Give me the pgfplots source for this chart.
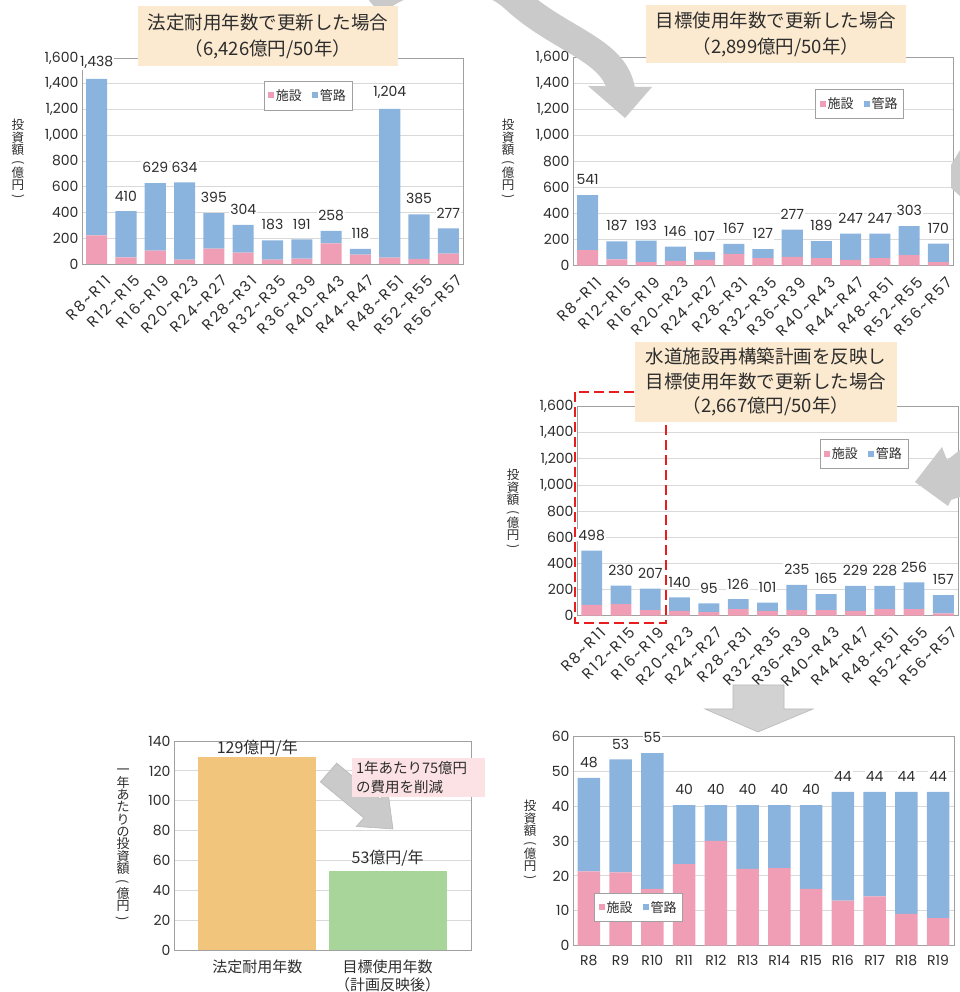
\documentclass[border=0pt]{standalone}
\usepackage{fontspec}
\setmainfont{Noto Sans CJK JP}
\newfontfamily\num{Poppins}
\newfontfamily\numw[LetterSpace=14]{Poppins}
\usepackage{graphicx}
\usepackage{pgfplots}
\usepackage{pgfplotstable}
\pgfplotsset{compat=1.18}
\definecolor{pk}{RGB}{240,158,181}
\definecolor{bl}{RGB}{138,180,222}
\definecolor{og}{RGB}{242,197,124}
\definecolor{gn}{RGB}{168,214,154}
\definecolor{ttl}{RGB}{252,234,208}
\definecolor{pkbox}{RGB}{252,226,228}
\definecolor{arrc}{RGB}{202,202,202}
\definecolor{arrd}{RGB}{185,185,185}
\definecolor{gridc}{RGB}{217,217,217}
\definecolor{frame}{RGB}{160,160,160}
\definecolor{txt}{RGB}{45,45,45}
\definecolor{dred}{RGB}{232,30,30}

% p = 施設, b = 管路, t = total label, z = zero-height helper carrying the label
\pgfplotstableread{
x p b t z
0 222 1216 1438 0.01
1 52 358 410 0.01
2 104 525 629 0.01
3 34 600 634 0.01
4 119 276 395 0.01
5 88 216 304 0.01
6 34 149 183 0.01
7 41 150 191 0.01
8 160 98 258 0.01
9 73 45 118 0.01
10 49 1155 1204 0.01
11 39 346 385 0.01
12 80 197 277 0.01
}\dA
\pgfplotstableread{
x p b t z
0 120 421 541 0.01
1 49 138 187 0.01
2 28 165 193 0.01
3 36 110 146 0.01
4 44 63 107 0.01
5 90 77 167 0.01
6 59 68 127 0.01
7 67 210 277 0.01
8 59 130 189 0.01
9 44 203 247 0.01
10 59 188 247 0.01
11 82 221 303 0.01
12 28 142 170 0.01
}\dB
\pgfplotstableread{
x p b t z
0 82 416 498 0.01
1 89 141 230 0.01
2 43 164 207 0.01
3 36 104 140 0.01
4 28 67 95 0.01
5 51 75 126 0.01
6 36 65 101 0.01
7 43 192 235 0.01
8 43 122 165 0.01
9 36 193 229 0.01
10 51 177 228 0.01
11 51 205 256 0.01
12 18 139 157 0.01
}\dC
\pgfplotstableread{
x p b t z
0 21.3 26.8 48 0.001
1 21.0 32.4 53 0.001
2 16.3 38.9 55 0.001
3 23.4 16.9 40 0.001
4 30.0 10.3 40 0.001
5 22.0 18.3 40 0.001
6 22.2 18.1 40 0.001
7 16.3 24.0 40 0.001
8 12.9 31.2 44 0.001
9 14.1 30.0 44 0.001
10 9.1 35.0 44 0.001
11 7.9 36.2 44 0.001
}\dD

\pgfplotsset{
  base/.style={
    scale only axis, anchor=south west, clip=false,
    axis line style={draw=frame},
    ymajorgrids, grid style={draw=gridc, line width=0.9pt},
    major tick length=0pt,
    yticklabel style={font=\num\fontsize{14}{14}\selectfont, text=txt},
    xticklabel style={font=\num\fontsize{14}{14}\selectfont, text=txt},
    /pgf/number format/assume math mode=true,
    /pgf/number format/1000 sep={,},
    legend style={anchor=center, draw=frame, fill=white, font=\fontsize{13}{13}\selectfont, text=txt,
      legend columns=2, /tikz/every even column/.append style={column sep=8pt}, inner xsep=4pt, inner ysep=6pt},
  },
  stk/.style={base, ybar stacked, xmin=-0.5, xmax=12.5, ymin=0,
    xtick={0,...,12},
    xticklabels={R8\textasciitilde R11,R12\textasciitilde R15,R16\textasciitilde R19,R20\textasciitilde R23,R24\textasciitilde R27,R28\textasciitilde R31,R32\textasciitilde R35,R36\textasciitilde R39,R40\textasciitilde R43,R44\textasciitilde R47,R48\textasciitilde R51,R52\textasciitilde R55,R56\textasciitilde R57},
    xticklabel style={rotate=45, anchor=north east, inner sep=1pt, xshift=-1pt, yshift=-11pt, font=\numw\fontsize{15}{15}\selectfont},
  },
  pkbar/.style={fill=pk, draw=none, legend image code/.code={\fill[pk] (0pt,-3pt) rectangle (6pt,3pt);}},
  blbar/.style={fill=bl, draw=none, legend image code/.code={\fill[bl] (0pt,-3pt) rectangle (6pt,3pt);}},
  lab/.style={draw=none, fill=none, nodes near coords, point meta=explicit,
    every node near coord/.append style={font=\num\fontsize{14}{14}\selectfont, text=txt, fill=white, inner sep=1pt, anchor=south, yshift=9pt}},
}

\newcommand\vp[1]{\rotatebox[origin=c]{-90}{#1}}

\begin{document}
\begin{tikzpicture}
\path[use as bounding box] (0,0) rectangle (959pt,992pt);

% Chart 1
\begin{axis}[stk, at={(82pt,728pt)}, width=381pt, height=206pt, ymax=1600, ytick={0,200,...,1600}, bar width=0.72,
  legend style={at={(0.593,0.818)}}]
\addplot[pkbar] table[x=x,y=p]{\dA};
\addplot[blbar] table[x=x,y=b]{\dA};
\addplot[lab] table[x=x,y=z,meta=t]{\dA};
\legend{施設,管路}
\end{axis}

% Chart 2
\begin{axis}[stk, at={(573pt,726.3pt)}, width=380pt, height=208.4pt, ymax=1600, ytick={0,200,...,1600}, bar width=0.72,
  legend style={at={(0.754,0.778)}}]
\addplot[pkbar] table[x=x,y=p]{\dB};
\addplot[blbar] table[x=x,y=b]{\dB};
\addplot[lab] table[x=x,y=z,meta=t]{\dB};
\legend{施設,管路}
\end{axis}

% Chart 3
\begin{axis}[stk, at={(577pt,376.3pt)}, width=381pt, height=209pt, ymax=1600, ytick={0,200,...,1600}, bar width=0.71,
  legend style={at={(0.753,0.776)}}]
\addplot[pkbar] table[x=x,y=p]{\dC};
\addplot[blbar] table[x=x,y=b]{\dC};
\addplot[lab] table[x=x,y=z,meta=t]{\dC};
\legend{施設,管路}
\end{axis}

% Chart 4
\begin{axis}[base, ybar stacked, at={(573pt,46.3pt)}, width=381pt, height=209.4pt, xmin=-0.5, xmax=11.5, ymin=0, ymax=60,
  ytick={0,10,...,60}, xtick={0,...,11}, xticklabels={R8,R9,R10,R11,R12,R13,R14,R15,R16,R17,R18,R19},
  xticklabel style={yshift=-6pt},
  bar width=0.71, legend style={at={(0.172,0.183)}}]
\addplot[pkbar] table[x=x,y=p]{\dD};
\addplot[blbar] table[x=x,y=b]{\dD};
\addplot[lab] table[x=x,y=z,meta=t]{\dD};
\legend{施設,管路}
\end{axis}

% Chart 5
\begin{axis}[base, ybar, bar shift=0pt, at={(174pt,42pt)}, width=297pt, height=209pt, xmin=-0.639, xmax=1.639, ymin=0, ymax=140,
  ytick={0,20,...,140}, xtick={0,1}, xticklabels={法定耐用年数,{目標使用年数\\（計画反映後）}},
  xticklabel style={align=center, font=\fontsize{15}{18}\selectfont, yshift=-6pt},
  bar width=0.906,
  nodes near coords={\pgfmathprintnumber{\pgfplotspointmeta}億円/年},
  nodes near coords style={font=\fontsize{16}{16}\selectfont, text=txt, inner sep=1pt, anchor=south}]
\addplot[fill=og, draw=none] coordinates {(0,129)};
\addplot[fill=gn, draw=none, every node near coord/.append style={yshift=3pt}] coordinates {(1,53)};
\end{axis}

\begin{scope}[x=1pt, y=-1pt, yshift=992pt]
% arrows
\draw[arrc, line width=28pt] (372,4) .. controls (410,-30) and (480,-35) .. (516,0) .. controls (560,40) and (615,50) .. (621,90);
\fill[arrc] (588,86) -- (652,87) -- (625,118) -- cycle;
\fill[arrc] (951,165) -- (960,150) -- (960,196) -- (951,188) -- cycle;
\fill[arrc] (915,482) -- (942,447) -- (947,460) -- (960,450) -- (960,497) -- (951,500) -- (948,506) -- cycle;
\filldraw[fill=arrc!85!white, draw=arrd, line width=0.6pt] (733,685) -- (784,685) -- (784,709) -- (813,709) -- (758,732) -- (705,709) -- (733,709) -- cycle;
\filldraw[fill=arrc, draw=arrd, line width=0.6pt] (336.7,763.1) -- (380.2,799.1) -- (387.8,790.5) -- (393,829) -- (356.2,826.5) -- (363.8,817.9) -- (320.3,781.9) -- cycle;
% red dashed
\draw[dred, line width=2.6pt, dash pattern=on 10pt off 5pt] (575,392) rectangle (666,623);
% title boxes
\node[fill=ttl, minimum width=260pt, minimum height=60pt, align=center, font=\fontsize{18.5}{26}\selectfont, text=txt, inner sep=0pt] at (268,36) {法定耐用年数で更新した場合\\（6,426億円/50年）};
\node[fill=ttl, minimum width=260pt, minimum height=58pt, align=center, font=\fontsize{18.5}{26}\selectfont, text=txt, inner sep=0pt] at (776,34) {目標使用年数で更新した場合\\（2,899億円/50年）};
\node[fill=ttl, minimum width=262pt, minimum height=80pt, align=center, font=\fontsize{18.5}{24.5}\selectfont, text=txt, inner sep=0pt] at (766,382) {水道施設再構築計画を反映し\\目標使用年数で更新した場合\\（2,667億円/50年）};
\node[fill=pkbox, minimum width=133pt, minimum height=39pt, align=left, font=\fontsize{14.5}{19}\selectfont, text=txt, inner sep=0pt, text width=125pt] at (418.5,777.5) {1年あたり75億円\\の費用を削減};
% y labels
\node[align=center, font=\fontsize{12.5}{11.5}\selectfont, text=txt, inner sep=0pt] at (18,160) {投\\資\\額\\\vp{(}\\億\\円\\\vp{)}};
\node[align=center, font=\fontsize{12.5}{11.5}\selectfont, text=txt, inner sep=0pt] at (508,160) {投\\資\\額\\\vp{(}\\億\\円\\\vp{)}};
\node[align=center, font=\fontsize{12.5}{11.5}\selectfont, text=txt, inner sep=0pt] at (513,510) {投\\資\\額\\\vp{(}\\億\\円\\\vp{)}};
\node[align=center, font=\fontsize{12.5}{11.5}\selectfont, text=txt, inner sep=0pt] at (530,841) {投\\資\\額\\\vp{(}\\億\\円\\\vp{)}};
\node[align=center, font=\fontsize{13}{12.3}\selectfont, text=txt, inner sep=0pt] at (123,846) {一\\年\\あ\\た\\り\\の\\投\\資\\額\\\vp{(}\\億\\円\\\vp{)}};
\end{scope}
\end{tikzpicture}
\end{document}
